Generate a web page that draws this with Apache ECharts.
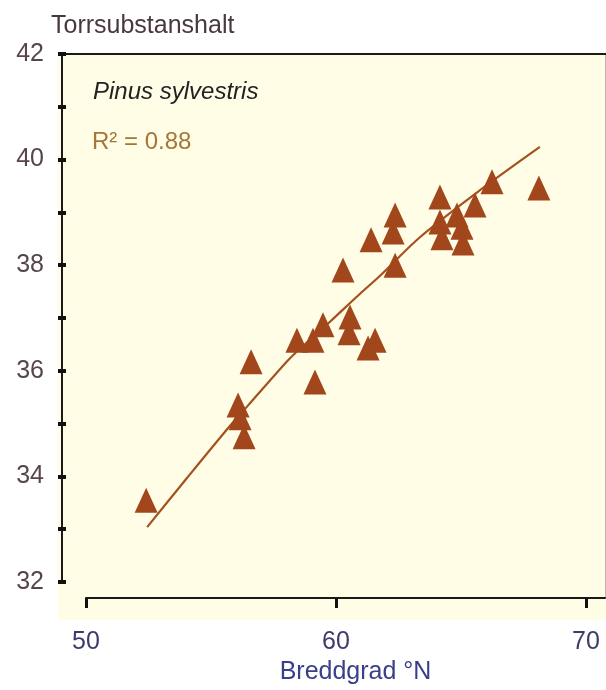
<!DOCTYPE html>
<html>
<head>
<meta charset="utf-8">
<script src="https://cdn.jsdelivr.net/npm/echarts@6/dist/echarts.min.js"></script>
<style>
html,body{margin:0;padding:0;background:#fff;}
#chart{width:606px;height:690px;}
</style>
</head>
<body>
<div id="chart"></div>
<script>
// Observed points: latitude (°N) and dry matter content (Torrsubstanshalt, %)
const pointLat = [52.40, 56.59, 56.07, 56.15, 56.31, 58.42, 59.06, 59.46, 59.14, 60.26,
                  60.54, 60.50, 61.54, 61.26, 61.38, 62.26, 62.34, 62.34, 64.13, 64.13,
                  64.21, 64.81, 65.01, 65.05, 65.53, 66.21, 68.08];
const pointVal = [33.55, 36.17, 35.35, 35.11, 34.75, 36.58, 36.58, 36.87, 35.79, 37.91,
                  37.02, 36.72, 36.58, 36.43, 38.48, 38.63, 38.95, 38.00, 39.29, 38.82,
                  38.52, 38.95, 38.72, 38.42, 39.14, 39.58, 39.46];
// Fitted curve
const curveLat = [52.44, 54.03, 55.75, 56.48, 58.01, 58.41, 59.74, 60.94, 61.74, 63.33, 65.73, 68.12];
const curveVal = [33.04, 33.97, 34.96, 35.35, 36.17, 36.36, 36.93, 37.46, 37.80, 38.53, 39.42, 40.24];
// Axis ticks
const yTicks = [32, 34, 36, 38, 40, 42];
const xTicks = [50, 60, 70];
const yTitle = 'Torrsubstanshalt';
const xTitle = 'Breddgrad °N';
const speciesLabel = 'Pinus sylvestris';
const r2Label = 'R\u00B2 = 0.88';

const FONT = '"Liberation Sans", Arial, Helvetica, sans-serif';
const brown = '#A2461B';

const chart = echarts.init(document.getElementById('chart'), null, {renderer: 'canvas'});

const scatterData = pointLat.map((x, i) => [x, pointVal[i]]);
const curveData = curveLat.map((x, i) => [x, curveVal[i]]);

chart.setOption({
  animation: false,
  backgroundColor: '#ffffff',
  title: {
    text: yTitle,
    left: 46, top: 9,
    textStyle: {fontFamily: FONT, fontSize: 25, fontWeight: 'normal', color: '#4A383C'}
  },
  graphic: [
    {type: 'rect', z: -10, silent: true,
     shape: {x: 58, y: 54, width: 548, height: 566},
     style: {fill: '#FFFDE6'}},
    {type: 'text', left: 93, top: 80, z: 10,
     style: {text: speciesLabel, font: 'italic 24px ' + FONT, fill: '#222222'}},
    {type: 'text', left: 92, top: 130, z: 10,
     style: {text: r2Label, font: '24px ' + FONT, fill: '#A57636'}}
  ],
  grid: [
    {left: 62, top: 54, right: 0, height: 528, containLabel: false},
    {left: 86, top: 54, right: 1, bottom: 79, containLabel: false}
  ],
  xAxis: [
    { // plotting axis of grid 0; only its line is shown as the top frame
      gridIndex: 0, type: 'value', position: 'top', min: 49.04, max: 70.76,
      axisLine: {show: true, onZero: false, lineStyle: {color: '#1a1a1a', width: 2}},
      axisTick: {show: false}, axisLabel: {show: false}, splitLine: {show: false}
    },
    { // visible latitude axis
      gridIndex: 1, type: 'value', position: 'bottom', min: 50, max: 70.76,
      axisLine: {show: true, onZero: false, lineStyle: {color: '#1a1a1a', width: 2}},
      axisTick: {show: true, length: 10, customValues: xTicks,
                 lineStyle: {color: '#111', width: 3}},
      axisLabel: {show: true, customValues: xTicks, margin: 32,
                  fontFamily: FONT, fontSize: 25, color: '#3D3B6C'},
      splitLine: {show: false},
      name: xTitle, nameLocation: 'middle', nameGap: 58,
      nameTextStyle: {fontFamily: FONT, fontSize: 25, color: '#393F88', padding: [0, 0, 0, 20]}
    }
  ],
  yAxis: [
    {
      gridIndex: 0, type: 'value', position: 'left', min: 32, max: 42, interval: 1,
      axisLine: {show: true, onZero: false, lineStyle: {color: '#1a1a1a', width: 2}},
      axisTick: {show: true, length: 4, lineStyle: {color: '#111', width: 4}},
      axisLabel: {show: true, margin: 18, fontFamily: FONT, fontSize: 25, color: '#57454E',
                  formatter: v => (yTicks.indexOf(v) >= 0 ? String(v) : '')},
      splitLine: {show: false}
    },
    { // inward half of the crossing ticks
      gridIndex: 0, type: 'value', position: 'left', min: 32, max: 42, interval: 1,
      axisLine: {show: false, onZero: false},
      axisTick: {show: true, inside: true, length: 4, lineStyle: {color: '#111', width: 4}},
      axisLabel: {show: false}, splitLine: {show: false}
    },
    { // right frame edge of the panel
      gridIndex: 1, type: 'value', position: 'right', min: 0, max: 1,
      axisLine: {show: true, onZero: false, lineStyle: {color: '#b8b8b0', width: 1}},
      axisTick: {show: false}, axisLabel: {show: false}, splitLine: {show: false}
    }
  ],
  series: [
    {
      type: 'line', xAxisIndex: 0, yAxisIndex: 0,
      data: curveData, smooth: 0.3, symbol: 'none',
      lineStyle: {color: '#A3521F', width: 2.2}, z: 3
    },
    {
      type: 'scatter', xAxisIndex: 0, yAxisIndex: 0,
      data: scatterData, symbol: 'triangle', symbolSize: [23, 25],
      itemStyle: {color: brown, opacity: 1}, z: 4
    }
  ]
});
</script>
</body>
</html>
